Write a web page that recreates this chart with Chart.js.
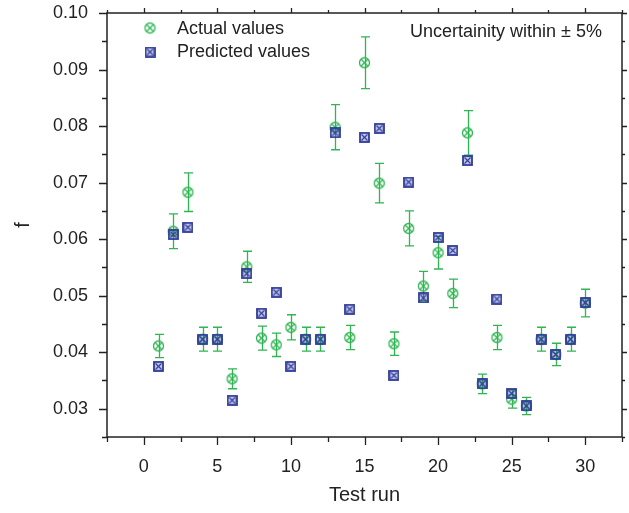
<!DOCTYPE html>
<html>
<head>
<meta charset="utf-8">
<script src="https://cdn.jsdelivr.net/npm/chart.js@4/dist/chart.umd.min.js"></script>
<style>
  html, body { margin: 0; padding: 0; background: #fff; }
  canvas { display: block; }
</style>
</head>
<body>
<canvas id="grafico" width="629" height="513"></canvas>
<script>
/* datos */
const runs = [1, 2, 3, 4, 5, 6, 7, 8, 9, 10, 11, 12, 13, 14, 15, 16, 17, 18, 19, 20, 21, 22, 23, 24, 25, 26, 27, 28, 29, 30];
const actualValues = [0.0411, 0.0614, 0.0683, 0.0423, 0.0423, 0.0353, 0.0551, 0.0425, 0.0413, 0.0444,
                      0.0423, 0.0423, 0.0798, 0.0426, 0.0912, 0.0699, 0.0415, 0.0619, 0.0517, 0.0576,
                      0.0504, 0.0788, 0.0344, 0.0426, 0.0317, 0.0305, 0.0423, 0.0396, 0.0423, 0.0487];
const predictedValues = [0.0375, 0.0608, 0.0621, 0.0423, 0.0423, 0.0315, 0.0539, 0.0469, 0.0506, 0.0375,
                         0.0423, 0.0423, 0.0788, 0.0476, 0.0780, 0.0796, 0.0359, 0.0701, 0.0496, 0.0603,
                         0.0580, 0.0739, 0.0344, 0.0494, 0.0327, 0.0305, 0.0423, 0.0396, 0.0423, 0.0488];
const uncertainty = 0.05;   // +/- 5%
const seriesNames = ['Actual values', 'Predicted values'];
const noteText = 'Uncertainity within \u00b1 5%';

const FONT = "'Liberation Sans', Arial, sans-serif";
const GREEN = '#2fb552';
const BLUE = '#2f3b9a';
const INK = '#222';

/* marcadores */
function circleX(color) {
    const c = document.createElement('canvas');
    c.width = 13; c.height = 13;
    const g = c.getContext('2d');
    g.strokeStyle = color;
    g.lineWidth = 1.3;
    g.beginPath();
    g.arc(6.5, 6.5, 5, 0, Math.PI * 2);
    g.stroke();
    g.beginPath();
    g.moveTo(3, 3); g.lineTo(10, 10);
    g.moveTo(10, 3); g.lineTo(3, 10);
    g.stroke();
    return c;
}

function squareX(color) {
    const c = document.createElement('canvas');
    c.width = 11; c.height = 11;
    const g = c.getContext('2d');
    g.fillStyle = 'rgba(60, 70, 170, 0.3)';
    g.fillRect(1, 1, 9, 9);
    g.strokeStyle = color;
    g.lineWidth = 1.8;
    g.strokeRect(1, 1, 9, 9);
    g.lineWidth = 1.1;
    g.beginPath();
    g.moveTo(2.5, 2.5); g.lineTo(8.5, 8.5);
    g.moveTo(8.5, 2.5); g.lineTo(2.5, 8.5);
    g.stroke();
    return c;
}

const markActual = circleX(GREEN);
const markPredicted = squareX(BLUE);

/* barras de error */
const errorBars = {
    id: 'errorBars',
    beforeDatasetsDraw(chart) {
        const { ctx, scales: { x, y } } = chart;
        ctx.save();
        ctx.strokeStyle = GREEN;
        ctx.lineWidth = 1.3;
        runs.forEach((r, i) => {
            const px = Math.round(x.getPixelForValue(r)) + 0.5;
            const hi = y.getPixelForValue(actualValues[i] * (1 + uncertainty));
            const lo = y.getPixelForValue(actualValues[i] * (1 - uncertainty));
            ctx.beginPath();
            ctx.moveTo(px, hi); ctx.lineTo(px, lo);
            ctx.moveTo(px - 4.5, hi); ctx.lineTo(px + 4.5, hi);
            ctx.moveTo(px - 4.5, lo); ctx.lineTo(px + 4.5, lo);
            ctx.stroke();
        });
        ctx.restore();
    }
};

/* marco, marcas, leyenda y nota */
const frame = {
    id: 'frame',
    afterDraw(chart) {
        const { ctx, chartArea: a, scales: { x, y } } = chart;
        ctx.save();
        ctx.strokeStyle = INK;
        ctx.lineWidth = 1.5;
        ctx.strokeRect(a.left, a.top, a.right - a.left, a.bottom - a.top);

        ctx.lineWidth = 1.3;
        ctx.beginPath();
        x.ticks.forEach(t => {
            const px = Math.round(x.getPixelForValue(t.value)) + 0.5;
            const major = Math.round(t.value * 10) % 50 === 0;
            ctx.moveTo(px, a.bottom); ctx.lineTo(px, a.bottom + (major ? 8 : 5));
            ctx.moveTo(px, a.top); ctx.lineTo(px, a.top - (major ? 5 : 3));
        });
        y.ticks.forEach(t => {
            const py = Math.round(y.getPixelForValue(t.value)) + 0.5;
            const major = Math.round(t.value * 1000) % 10 === 0;
            ctx.moveTo(a.left, py); ctx.lineTo(a.left - (major ? 8 : 5), py);
            ctx.moveTo(a.right, py); ctx.lineTo(a.right + (major ? 5 : 3), py);
        });
        ctx.stroke();

        // leyenda
        ctx.font = '18px ' + FONT;
        ctx.fillStyle = INK;
        ctx.textBaseline = 'middle';
        ctx.textAlign = 'left';
        ctx.drawImage(markActual, 150 - 6.5, 28 - 6.5);
        ctx.fillText(seriesNames[0], 177, 29);
        ctx.drawImage(markPredicted, 150 - 5.5, 52 - 5.5);
        ctx.fillText(seriesNames[1], 177, 52);

        // nota
        ctx.textAlign = 'right';
        ctx.fillText(noteText, 602, 32);
        ctx.restore();
    }
};

const grafico = document.getElementById('grafico').getContext('2d');
new Chart(grafico, {
    type: 'scatter',
    data: {
        datasets: [{
            label: seriesNames[1],
            data: runs.map((r, i) => ({ x: r, y: predictedValues[i] })),
            pointStyle: markPredicted,
            pointRadius: 5,
            order: 1
        }, {
            label: seriesNames[0],
            data: runs.map((r, i) => ({ x: r, y: actualValues[i] })),
            pointStyle: markActual,
            pointRadius: 6,
            order: 2
        }]
    },
    plugins: [errorBars, frame],
    options: {
        responsive: false,
        animation: false,
        layout: { padding: { top: 13, right: 1, left: 0, bottom: 0 } },
        plugins: {
            legend: { display: false },
            tooltip: { enabled: false }
        },
        scales: {
            x: {
                type: 'linear',
                min: -2.5,
                max: 32.5,
                afterFit: s => { s.height = 76; s.paddingLeft = 0; s.paddingRight = 0; },
                grid: { display: false },
                border: { display: false },
                ticks: {
                    stepSize: 2.5,
                    autoSkip: false,
                    maxRotation: 0,
                    padding: 11,
                    color: INK,
                    font: { size: 18, family: FONT },
                    callback: v => (Math.round(v * 10) % 50 === 0 ? String(v) : '')
                },
                title: {
                    display: true,
                    text: 'Test run',
                    color: INK,
                    font: { size: 20, family: FONT },
                    padding: { top: 0, bottom: 6 }
                }
            },
            y: {
                min: 0.025,
                max: 0.10,
                afterFit: s => { s.width = 107; s.paddingTop = 0; s.paddingBottom = 0; },
                grid: { display: false },
                border: { display: false },
                ticks: {
                    stepSize: 0.005,
                    autoSkip: false,
                    padding: 11,
                    color: INK,
                    font: { size: 18, family: FONT },
                    callback: v => (Math.round(v * 1000) % 10 === 0 ? v.toFixed(2) : '')
                },
                title: {
                    display: true,
                    text: 'f',
                    color: INK,
                    font: { size: 20, family: FONT },
                    padding: { top: 11, bottom: 0 }
                }
            }
        }
    }
});
</script>
</body>
</html>
